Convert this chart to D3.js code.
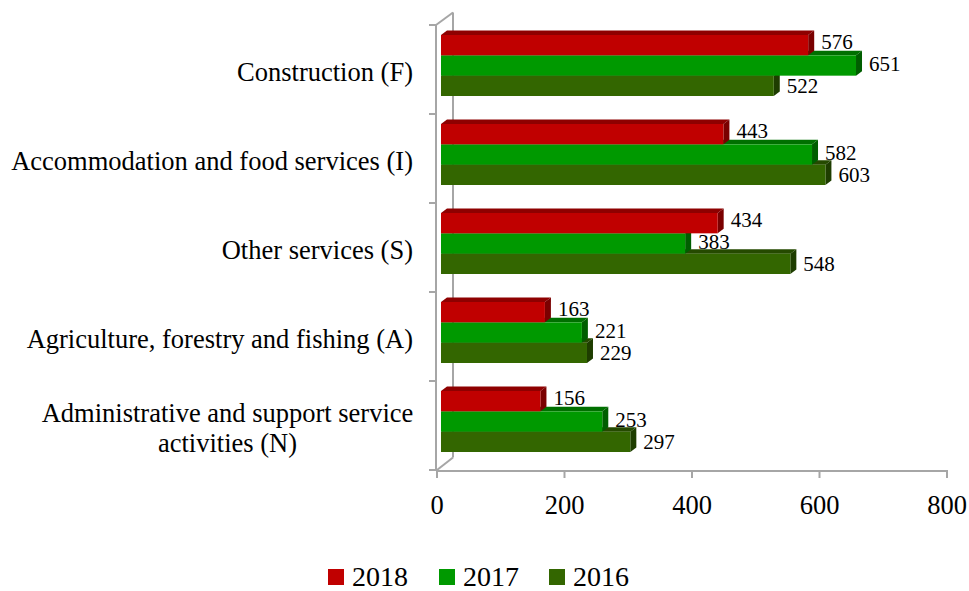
<!DOCTYPE html>
<html>
<head>
<meta charset="utf-8">
<script src="https://cdn.jsdelivr.net/npm/d3@7/dist/d3.min.js"></script>
<style>
  html, body { margin: 0; padding: 0; background: #fff; }
  svg { display: block; font-family: "Liberation Serif", "Times New Roman", serif; }
</style>
</head>
<body>
<svg id="chart" width="969" height="591"></svg>
<script>
// ---- data ----
const categories = [
  "Construction (F)",
  "Accommodation and food services (I)",
  "Other services (S)",
  "Agriculture, forestry and fishing (A)",
  "Administrative and support service\nactivities (N)"
];
const seriesNames = ["2018", "2017", "2016"];
const values2018 = [576, 443, 434, 163, 156];
const values2017 = [651, 582, 383, 221, 253];
const values2016 = [522, 603, 548, 229, 297];
const xTicks = [0, 200, 400, 600, 800];

const seriesValues = [values2018, values2017, values2016];
const colors = {
  "2018": { front: "#C00000", top: "#8E0000", side: "#7A0000" },
  "2017": { front: "#009900", top: "#007000", side: "#005E00" },
  "2016": { front: "#336600", top: "#254A00", side: "#1E3D00" }
};

const svg = d3.select("#chart");
const axisColor = "#A6A6A6";

// scales
const x = d3.scaleLinear().domain([0, 800]).range([437, 947]);
const y = d3.scaleBand().domain(categories).range([25, 470]).padding(0);
const ySeries = d3.scaleBand().domain(seriesNames).range([10, 71]).padding(0);

const depthX = 16, depthY = 12.5;       // wall depth
const barDX = 6, barDY = 4.5;           // bar depth
const frontOff = 4;                     // bar front plane offset

// ---- walls / axes ----
const g = svg.append("g");
g.append("line").attr("x1", x(0) + depthX).attr("x2", x(0) + depthX)
  .attr("y1", 25 - depthY).attr("y2", 470 - depthY)
  .attr("stroke", axisColor).attr("stroke-width", 2);
g.append("line").attr("x1", x(0) - 1).attr("y1", 25)
  .attr("x2", x(0) + depthX).attr("y2", 25 - depthY)
  .attr("stroke", axisColor).attr("stroke-width", 2);
g.append("line").attr("x1", x(0)).attr("y1", 470)
  .attr("x2", x(0) + depthX).attr("y2", 470 - depthY)
  .attr("stroke", axisColor).attr("stroke-width", 2);
g.append("line").attr("x1", x(0) - 1).attr("x2", x(0) - 1)
  .attr("y1", 25).attr("y2", 471)
  .attr("stroke", axisColor).attr("stroke-width", 2);
const catEdges = categories.map(c => y(c)).concat([y.range()[1]]);
g.selectAll(".ctick").data(catEdges).enter().append("line")
  .attr("x1", x(0) - 8).attr("x2", x(0) - 1)
  .attr("y1", d => d).attr("y2", d => d)
  .attr("stroke", axisColor).attr("stroke-width", 2);
g.append("line").attr("x1", x(0) - 1).attr("x2", x(800) + 1)
  .attr("y1", 471).attr("y2", 471)
  .attr("stroke", axisColor).attr("stroke-width", 2);
g.selectAll(".xtick").data(xTicks).enter().append("line")
  .attr("x1", d => x(d)).attr("x2", d => x(d))
  .attr("y1", 471).attr("y2", 478)
  .attr("stroke", axisColor).attr("stroke-width", 2);
g.selectAll(".xlabel").data(xTicks).enter().append("text")
  .attr("x", d => x(d)).attr("y", 514)
  .attr("text-anchor", "middle")
  .attr("font-size", 26.5).attr("fill", "#000")
  .text(d => d);

// ---- bars ----
const bars = svg.append("g");
categories.forEach((cat, ci) => {
  for (let si = seriesNames.length - 1; si >= 0; si--) {
    const s = seriesNames[si];
    const v = seriesValues[si][ci];
    const x0 = x(0) + frontOff;
    const x1 = x(v) + frontOff;
    const yt = y(cat) + ySeries(s);
    const yb = yt + ySeries.bandwidth();
    const c = colors[s];
    bars.append("polygon")
      .attr("points", [[x0, yt], [x0 + barDX, yt - barDY], [x1 + barDX, yt - barDY], [x1, yt]].map(p => p.join(",")).join(" "))
      .attr("fill", c.top);
    bars.append("polygon")
      .attr("points", [[x1, yt], [x1 + barDX, yt - barDY], [x1 + barDX, yb - barDY], [x1, yb]].map(p => p.join(",")).join(" "))
      .attr("fill", c.side);
    bars.append("rect")
      .attr("x", x0).attr("y", yt)
      .attr("width", x1 - x0).attr("height", yb - yt)
      .attr("fill", c.front);
  }
});

// ---- value labels ----
const labels = svg.append("g");
categories.forEach((cat, ci) => {
  seriesNames.forEach((s, si) => {
    const v = seriesValues[si][ci];
    const cy = y(cat) + ySeries(s) + ySeries.bandwidth() / 2 + (si - 2) * 2;
    labels.append("text")
      .attr("x", x(v) + frontOff + 13)
      .attr("y", cy)
      .attr("dy", "0.35em")
      .attr("font-size", 21)
      .attr("fill", "#000")
      .text(v);
  });
});

// ---- category labels ----
const catG = svg.append("g");
categories.forEach(cat => {
  const lines = cat.split("\n");
  const cy = y(cat) + y.bandwidth() / 2 + 2;
  const lh = 30;
  const t = catG.append("text")
    .attr("font-size", 26.5).attr("fill", "#000");
  if (lines.length === 1) {
    t.attr("x", 413).attr("y", cy).attr("dy", "0.35em")
      .attr("text-anchor", "end").text(lines[0]);
  } else {
    t.attr("text-anchor", "middle");
    const startY = cy - (lines.length - 1) * lh / 2;
    lines.forEach((ln, i) => {
      t.append("tspan").attr("x", 227.5).attr("y", startY + i * lh)
        .attr("dy", "0.35em").text(ln);
    });
  }
});

// ---- legend ----
const legendX = [328, 439, 549];
const legend = svg.append("g");
seriesNames.forEach((s, i) => {
  legend.append("rect")
    .attr("x", legendX[i]).attr("y", 569)
    .attr("width", 16).attr("height", 16)
    .attr("fill", colors[s].front);
  legend.append("text")
    .attr("x", legendX[i] + 24).attr("y", 586)
    .attr("font-size", 28).attr("fill", "#000")
    .text(s);
});
</script>
</body>
</html>
